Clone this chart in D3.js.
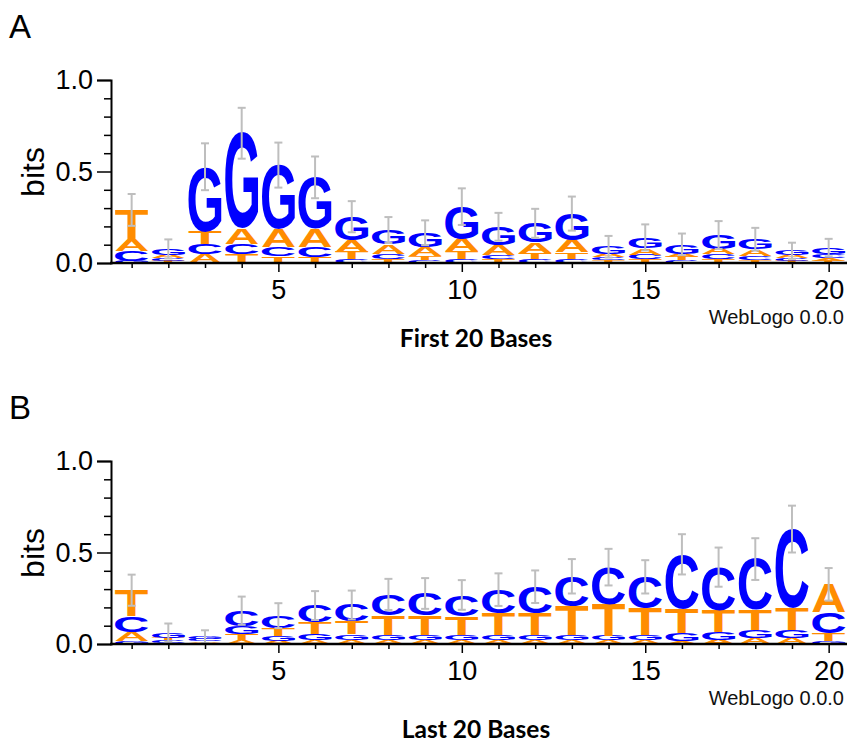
<!DOCTYPE html>
<html><head><meta charset="utf-8">
<script src="https://cdn.jsdelivr.net/npm/d3@7"></script>
<style>body{margin:0;background:#fff} svg{display:block}</style>
</head><body>
<svg id="chart" width="847" height="744"></svg>
<script>
// ---------------- data ----------------
const positions = d3.range(1, 21);
const bases = ["A", "C", "G", "T"];

// Panel A: first 20 bases (bits per base)
const firstA = [0.065, 0.019, 0.046, 0.083, 0.097, 0.098, 0.061, 0.051, 0.050, 0.067, 0.054, 0.058, 0.067, 0.019, 0.036, 0.019, 0.031, 0.036, 0.017, 0.015];
const firstC = [0.055, 0.016, 0.058, 0.057, 0.052, 0.056, 0.022, 0.028, 0.017, 0.021, 0.022, 0.021, 0.021, 0.017, 0.026, 0.015, 0.026, 0.021, 0.014, 0.020];
const firstG = [0.010, 0.032, 0.354, 0.522, 0.350, 0.283, 0.131, 0.079, 0.078, 0.177, 0.102, 0.104, 0.146, 0.039, 0.059, 0.051, 0.075, 0.057, 0.025, 0.036];
const firstT = [0.160, 0.010, 0.068, 0.047, 0.036, 0.031, 0.039, 0.022, 0.020, 0.043, 0.020, 0.034, 0.036, 0.014, 0.019, 0.017, 0.021, 0.016, 0.011, 0.013];
const firstErr = [0.087, 0.052, 0.128, 0.139, 0.123, 0.114, 0.085, 0.071, 0.068, 0.100, 0.076, 0.079, 0.093, 0.059, 0.071, 0.059, 0.076, 0.062, 0.044, 0.048];

// Panel B: last 20 bases (bits per base)
const lastA = [0.052, 0.008, 0.009, 0.021, 0.018, 0.020, 0.023, 0.021, 0.020, 0.020, 0.021, 0.019, 0.021, 0.019, 0.019, 0.016, 0.024, 0.033, 0.033, 0.153];
const lastC = [0.088, 0.012, 0.011, 0.086, 0.066, 0.093, 0.090, 0.112, 0.120, 0.118, 0.131, 0.143, 0.162, 0.202, 0.170, 0.297, 0.238, 0.278, 0.433, 0.115];
const lastG = [0.014, 0.028, 0.012, 0.043, 0.027, 0.035, 0.030, 0.030, 0.030, 0.030, 0.029, 0.029, 0.029, 0.026, 0.028, 0.044, 0.039, 0.044, 0.045, 0.014];
const lastT = [0.140, 0.014, 0.008, 0.032, 0.044, 0.062, 0.070, 0.108, 0.106, 0.100, 0.116, 0.122, 0.158, 0.173, 0.150, 0.133, 0.119, 0.109, 0.117, 0.044];
const lastErr = [0.085, 0.050, 0.035, 0.077, 0.068, 0.079, 0.079, 0.085, 0.084, 0.081, 0.089, 0.089, 0.094, 0.100, 0.091, 0.110, 0.107, 0.114, 0.128, 0.089];

const yTickValues = d3.range(0, 11).map(i => i / 10);
const yTickLabels = ["0.0", "0.5", "1.0"];
const xTickLabels = ["5", "10", "15", "20"];
const panelLabels = ["A", "B"];
const panelTitles = ["First 20 Bases", "Last 20 Bases"];
const creditText = "WebLogo 0.0.0";
const baseColors = { A: "#FF8C00", T: "#FF8C00", C: "#0000FF", G: "#0000FF" };

// ---------------- glyph metrics ----------------
const LOGO_FAMILY = "Liberation Sans";
const LOGO_SIZE = 200;
const cv = document.createElement("canvas");
const ctx = cv.getContext("2d");
ctx.font = `bold ${LOGO_SIZE}px '${LOGO_FAMILY}'`;
const glyph = {};
bases.forEach(b => {
  const m = ctx.measureText(b);
  glyph[b] = {
    left: -m.actualBoundingBoxLeft,
    right: m.actualBoundingBoxRight,
    asc: m.actualBoundingBoxAscent,
    desc: m.actualBoundingBoxDescent
  };
});

const svg = d3.select("#chart");
const FONT = "'Liberation Sans', Arial, sans-serif";

function drawPanel(cols, err, off, label, title) {
  const g = svg.append("g");
  const x = d3.scaleLinear().domain([0.5, 20.5]).range([113.3, 847]);
  const y = d3.scaleLinear().domain([0, 1]).range([263 + off, 80 + off]);
  const step = x(2) - x(1);
  const lw = step * 0.9;

  // stacks
  positions.forEach((p, i) => {
    const items = bases.map(b => ({ b, v: cols[b][i] })).sort((a, b) => a.v - b.v);
    let acc = 0;
    items.forEach(it => {
      const y0 = y(acc), y1 = y(acc + it.v);
      acc += it.v;
      const h = y0 - y1;
      if (h <= 0) return;
      const gm = glyph[it.b];
      const sx = lw / (gm.right - gm.left);
      const sy = h / (gm.asc + gm.desc);
      g.append("text")
        .attr("transform", `translate(${x(p) - lw / 2},${y1}) scale(${sx},${sy}) translate(${-gm.left},${gm.asc})`)
        .attr("font-family", `'${LOGO_FAMILY}'`)
        .attr("font-weight", "bold")
        .attr("font-size", LOGO_SIZE)
        .attr("fill", baseColors[it.b])
        .text(it.b);
    });
    // error bar
    const top = acc, e = err[i];
    const eb = g.append("g").attr("stroke", "#BEBEBE").attr("stroke-width", 2);
    eb.append("line").attr("x1", x(p)).attr("x2", x(p)).attr("y1", y(top + e)).attr("y2", y(top - e));
    eb.append("line").attr("x1", x(p) - 4).attr("x2", x(p) + 4).attr("y1", y(top + e)).attr("y2", y(top + e));
    eb.append("line").attr("x1", x(p) - 4).attr("x2", x(p) + 4).attr("y1", y(top - e)).attr("y2", y(top - e));
  });

  // y axis
  const yAxis = d3.axisLeft(y).tickValues(yTickValues).tickSizeOuter(0).tickSize(14).tickPadding(4)
    .tickFormat(d => {
      const k = yTickLabels.indexOf(d.toFixed(1));
      return k >= 0 ? yTickLabels[k] : "";
    });
  const ya = g.append("g").attr("transform", "translate(111,0)").call(yAxis);
  ya.selectAll(".tick line").attr("stroke-width", 1.5)
    .attr("x2", d => (yTickLabels.includes(d.toFixed(1)) ? -14 : -7));
  ya.select(".domain").attr("stroke-width", 2);
  ya.selectAll("text").attr("font-family", FONT).attr("font-size", 27).attr("fill", "#000");

  // x axis
  const xAxis = d3.axisBottom(x).tickValues(positions).tickSizeOuter(0).tickSize(9).tickPadding(8)
    .tickFormat(d => (xTickLabels.includes(String(d)) ? String(d) : ""));
  const xa = g.append("g").attr("transform", `translate(0,${263 + off})`).call(xAxis);
  xa.select(".domain").remove();
  xa.append("line").attr("x1", 110).attr("x2", 847).attr("y1", 0).attr("y2", 0)
    .attr("stroke", "#000").attr("stroke-width", 2.5);
  xa.selectAll(".tick line").attr("stroke-width", 1.5)
    .attr("y2", d => (xTickLabels.includes(String(d)) ? 9 : 5));
  xa.selectAll("text").attr("font-family", FONT).attr("font-size", 27).attr("fill", "#000");

  // labels
  g.append("text").attr("transform", `translate(44,${172 + off}) rotate(-90)`)
    .attr("text-anchor", "middle").attr("font-family", FONT).attr("font-size", 32).attr("fill", "#000").text("bits");
  g.append("text").attr("x", 844).attr("y", 324 + off).attr("text-anchor", "end")
    .attr("font-family", FONT).attr("font-size", 20).attr("fill", "#111").text(creditText);
  g.append("text").attr("x", 9).attr("y", 38 + off).attr("font-family", FONT).attr("font-size", 33).attr("fill", "#000").text(label);
  g.append("text").attr("x", 476).attr("y", off === 0 ? 346.5 : 737.5).attr("text-anchor", "middle")
    .attr("font-family", "Lato, 'Open Sans', sans-serif").attr("font-weight", "bold").attr("font-size", 24.5).attr("fill", "#000").text(title);
}

drawPanel({ A: firstA, C: firstC, G: firstG, T: firstT }, firstErr, 0, panelLabels[0], panelTitles[0]);
drawPanel({ A: lastA, C: lastC, G: lastG, T: lastT }, lastErr, 381, panelLabels[1], panelTitles[1]);
</script>
</body></html>
